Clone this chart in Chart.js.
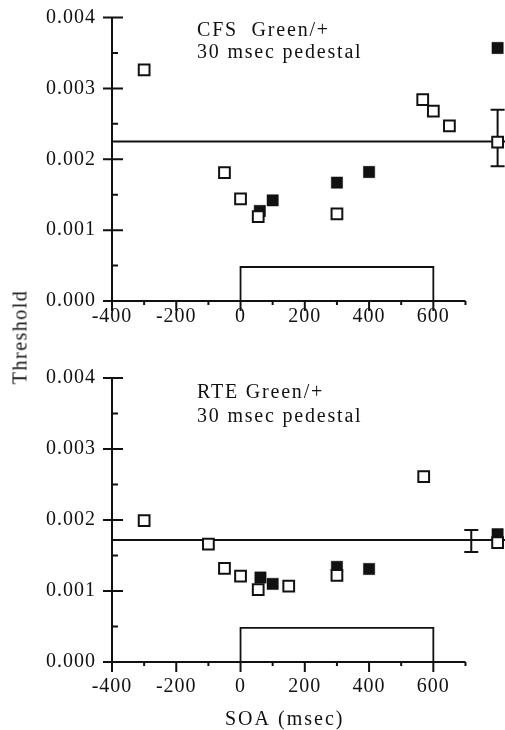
<!DOCTYPE html>
<html>
<head>
<meta charset="utf-8">
<script src="https://cdn.jsdelivr.net/npm/chart.js@4.4.0/dist/chart.umd.min.js"></script>
<style>
  body { margin: 0; background: #fff; }
  #wrap { position: relative; width: 505px; height: 730px; }
  canvas { display: block; }
  #ylabel {
    position: absolute; left: 20px; top: 337px;
    transform: translate(-50%, -50%) rotate(-90deg);
    font: 20px "Liberation Serif"; letter-spacing: 1.5px;
    white-space: nowrap; color: #111;
  }
</style>
</head>
<body>
<div id="wrap">
  <canvas id="cfs" width="505" height="365"></canvas>
  <canvas id="rte" width="505" height="365"></canvas>
  <div id="ylabel">Threshold</div>
</div>
<script>
// axes
const X_MIN = -400;
const X_AXIS_END = 700;
const X_MAX = 823;
const x_tick_labels = [-400, -200, 0, 200, 400, 600];
const x_minor = [-300, -100, 100, 300, 500, 700];
const y_ticks = [0, 0.001, 0.002, 0.003, 0.004];
const y_minor = [0.0005, 0.0015, 0.0025, 0.0035];

// pedestal (stimulus) box
const pedestal = [0, 600];
const pedestal_height = 0.00048;

// CFS panel
const cfs_open_x = [-300, -50, 0, 55, 300, 567, 600, 650, 800];
const cfs_open_y = [0.00326, 0.00181, 0.00144, 0.00119, 0.00123, 0.00284, 0.00268, 0.00247, 0.00224];
const cfs_filled_x = [60, 100, 300, 400, 800];
const cfs_filled_y = [0.00127, 0.00142, 0.00167, 0.00182, 0.00357];
const cfs_mean = 0.00225;
const cfs_err_x = 800;
const cfs_err = [0.0019, 0.0027];

// RTE panel
const rte_open_x = [-300, -100, -50, 0, 55, 150, 300, 570, 800];
const rte_open_y = [0.00199, 0.00166, 0.00132, 0.00121, 0.00102, 0.00107, 0.00122, 0.00261, 0.00168];
const rte_filled_x = [62, 100, 300, 400, 800];
const rte_filled_y = [0.00119, 0.0011, 0.00134, 0.00131, 0.0018];
const rte_mean = 0.00172;
const rte_err_x = 718;
const rte_err = [0.00155, 0.00186];

const INK = "#111";
const FONT = "Liberation Serif";

const to_points = (xs, ys) => xs.map((x, i) => ({ x: x, y: ys[i] }));

const frame_plugin = {
  id: "frame",
  beforeDraw(chart) {
    // wider set for the tick labels, like the printed figure
    chart.ctx.letterSpacing = "1px";
  },
  beforeDatasetsDraw(chart, args, opts) {
    const { ctx } = chart;
    const x = chart.scales.x, y = chart.scales.y;
    const x0 = x.getPixelForValue(X_MIN), x1 = x.getPixelForValue(X_AXIS_END);
    const y0 = y.getPixelForValue(0), y1 = y.getPixelForValue(0.004);
    ctx.save();
    ctx.strokeStyle = INK;
    ctx.lineWidth = 2;
    ctx.beginPath();
    ctx.moveTo(x0, y1); ctx.lineTo(x0, y0); ctx.lineTo(x1, y0);
    y_ticks.forEach(v => { const py = y.getPixelForValue(v); ctx.moveTo(x0 - 9, py); ctx.lineTo(x0 + 11, py); });
    y_minor.forEach(v => { const py = y.getPixelForValue(v); ctx.moveTo(x0, py); ctx.lineTo(x0 + 6, py); });
    x_tick_labels.forEach(v => { const px = x.getPixelForValue(v); ctx.moveTo(px, y0); ctx.lineTo(px, y0 + 10); });
    x_minor.forEach(v => { const px = x.getPixelForValue(v); ctx.moveTo(px, y0); ctx.lineTo(px, y0 + 4); });
    // error bar
    const ex = x.getPixelForValue(opts.err_x);
    const lo = y.getPixelForValue(opts.err[0]), hi = y.getPixelForValue(opts.err[1]);
    ctx.moveTo(ex, lo); ctx.lineTo(ex, hi);
    ctx.moveTo(ex - 7, lo); ctx.lineTo(ex + 7, lo);
    ctx.moveTo(ex - 7, hi); ctx.lineTo(ex + 7, hi);
    ctx.stroke();
    ctx.restore();
  },
  afterDraw(chart, args, opts) {
    const { ctx } = chart;
    ctx.save();
    ctx.fillStyle = INK;
    ctx.textBaseline = "alphabetic";
    ctx.textAlign = "left";
    ctx.font = "20px " + FONT;
    ctx.letterSpacing = "1.8px";
    opts.lines.forEach((t, i) => ctx.fillText(t, opts.text_x, opts.text_y[i]));
    if (opts.x_title) {
      ctx.letterSpacing = "2px";
      ctx.fillText(opts.x_title, opts.x_title_pos[0], opts.x_title_pos[1]);
    }
    ctx.restore();
  }
};

function make_panel(id, p) {
  return new Chart(document.getElementById(id), {
    type: "scatter",
    data: {
      datasets: [
        {
          label: "open",
          data: to_points(p.open_x, p.open_y),
          pointStyle: "rect", pointRadius: 7.6,
          backgroundColor: "#fff", borderColor: INK, borderWidth: 2,
        },
        {
          label: "filled",
          data: to_points(p.filled_x, p.filled_y),
          pointStyle: "rect", pointRadius: 8,
          backgroundColor: INK, borderColor: INK, borderWidth: 0.5,
        },
        {
          type: "line", label: "mean",
          data: [{ x: X_MIN, y: p.mean }, { x: X_MAX, y: p.mean }],
          borderColor: INK, borderWidth: 2, pointRadius: 0, fill: false,
        },
        {
          type: "line", label: "pedestal",
          data: [
            { x: pedestal[0], y: 0 }, { x: pedestal[0], y: pedestal_height },
            { x: pedestal[1], y: pedestal_height }, { x: pedestal[1], y: 0 },
          ],
          borderColor: INK, borderWidth: 1.8, pointRadius: 0, fill: false,
        },
      ],
    },
    options: {
      responsive: false,
      animation: false,
      events: [],
      layout: { autoPadding: false, padding: { top: p.pad_top, left: 0, right: 0, bottom: 0 } },
      plugins: {
        legend: { display: false },
        tooltip: { enabled: false },
        frame: p.frame,
      },
      scales: {
        x: {
          type: "linear", min: X_MIN, max: X_MAX,
          border: { display: false },
          grid: { display: false, drawTicks: false },
          afterBuildTicks: (s) => { s.ticks = x_tick_labels.map(v => ({ value: v })); },
          afterFit: (s) => { s.height = p.x_height; s.paddingLeft = 0; s.paddingRight = 0; },
          ticks: { padding: p.x_pad, color: INK, font: { family: FONT, size: 20 }, maxRotation: 0, autoSkip: false },
        },
        y: {
          type: "linear", min: 0, max: 0.004,
          border: { display: false },
          grid: { display: false, drawTicks: false },
          afterBuildTicks: (s) => { s.ticks = y_ticks.map(v => ({ value: v })); },
          afterFit: (s) => { s.width = 112; s.paddingTop = 0; s.paddingBottom = 0; },
          ticks: { padding: 16, color: INK, font: { family: FONT, size: 20 }, callback: (v) => Number(v).toFixed(3) },
        },
      },
    },
    plugins: [frame_plugin],
  });
}

make_panel("cfs", {
  open_x: cfs_open_x, open_y: cfs_open_y,
  filled_x: cfs_filled_x, filled_y: cfs_filled_y,
  mean: cfs_mean,
  pad_top: 17.5, x_height: 64, x_pad: 4,
  frame: {
    err_x: cfs_err_x, err: cfs_err,
    lines: ["CFS  Green/+", "30 msec pedestal"], text_x: 197, text_y: [36, 58],
  },
});

make_panel("rte", {
  open_x: rte_open_x, open_y: rte_open_y,
  filled_x: rte_filled_x, filled_y: rte_filled_y,
  mean: rte_mean,
  pad_top: 13, x_height: 68, x_pad: 13,
  frame: {
    err_x: rte_err_x, err: rte_err,
    lines: ["RTE Green/+", "30 msec pedestal"], text_x: 197, text_y: [33, 57],
    x_title: "SOA (msec)", x_title_pos: [225, 360],
  },
});
</script>
</body>
</html>
